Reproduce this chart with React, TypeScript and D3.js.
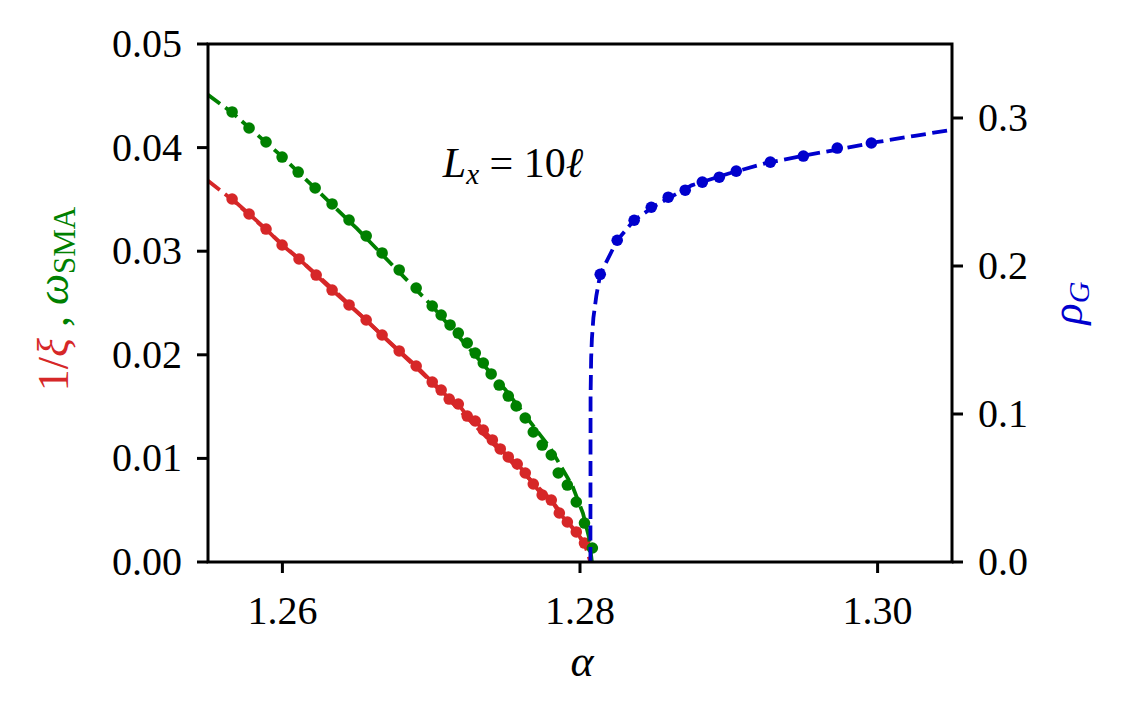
import React from "react";
import * as d3 from "d3";

// ---- data ----
const redAlpha = [1.25662, 1.25776, 1.2589, 1.25998, 1.26112, 1.26227, 1.26334, 1.26448, 1.26563, 1.2667, 1.26785, 1.26899, 1.27007, 1.27067, 1.27121, 1.27182, 1.27242, 1.27296, 1.2735, 1.27411, 1.27464, 1.27518, 1.27578, 1.27632, 1.27686, 1.27746, 1.27807, 1.27861, 1.27915, 1.27975, 1.2803];
const redValue = [0.03504, 0.03359, 0.03214, 0.0306, 0.02925, 0.0277, 0.02625, 0.02481, 0.02336, 0.02191, 0.02037, 0.01892, 0.01737, 0.0166, 0.01573, 0.01525, 0.01409, 0.01361, 0.01274, 0.01178, 0.01091, 0.01014, 0.00946, 0.00859, 0.00753, 0.00647, 0.00598, 0.00473, 0.00386, 0.0029, 0.00183];
const redFitAlpha = [1.255, 1.2566, 1.2635, 1.27, 1.275, 1.278, 1.2803, 1.2807];
const redFitValue = [0.0368, 0.035, 0.0262, 0.0174, 0.0102, 0.0061, 0.0018, 0.0];

const greenAlpha = [1.25662, 1.25776, 1.2589, 1.25998, 1.26106, 1.2622, 1.26334, 1.26448, 1.26563, 1.2667, 1.26785, 1.26899, 1.27007, 1.27067, 1.27127, 1.27182, 1.27242, 1.27296, 1.2735, 1.27403, 1.27457, 1.27518, 1.27571, 1.27632, 1.27686, 1.27746, 1.27807, 1.27854, 1.27915, 1.27975, 1.2803, 1.28083];
const greenValue = [0.04344, 0.04189, 0.04054, 0.03909, 0.03764, 0.0361, 0.03456, 0.03301, 0.03147, 0.02983, 0.02819, 0.02645, 0.02471, 0.02384, 0.02288, 0.0221, 0.02114, 0.02017, 0.01921, 0.01815, 0.01708, 0.01602, 0.01506, 0.0139, 0.01255, 0.01129, 0.01033, 0.00859, 0.00743, 0.00579, 0.00376, 0.00135];
const greenFitAlpha = [1.255, 1.2566, 1.26, 1.265, 1.27, 1.275, 1.278, 1.2795, 1.2802, 1.2806, 1.2808];
const greenFitValue = [0.0451, 0.0434, 0.0391, 0.0322, 0.0248, 0.0166, 0.011, 0.0073, 0.0047, 0.0024, 0.0];

const blueAlpha = [1.28136, 1.2825, 1.28364, 1.28479, 1.28593, 1.28707, 1.28822, 1.28936, 1.2905, 1.29279, 1.29501, 1.29729, 1.29958];
const blueValue = [0.1944, 0.2174, 0.2309, 0.2397, 0.2465, 0.2512, 0.2567, 0.26, 0.2641, 0.2702, 0.2743, 0.2797, 0.2831];
const blueFitAlpha = [1.2807, 1.28071, 1.28075, 1.2808, 1.2809, 1.2811, 1.28136, 1.2825, 1.28364, 1.285, 1.2875, 1.29, 1.2925, 1.295, 1.2975, 1.3, 1.3025, 1.305];
const blueFitValue = [0.0, 0.112, 0.138, 0.151, 0.165, 0.18, 0.1944, 0.2174, 0.2309, 0.2405, 0.2545, 0.2625, 0.2695, 0.2745, 0.279, 0.2838, 0.288, 0.292];

const xTicks = [1.26, 1.28, 1.3];
const xTickLabels = ["1.26", "1.28", "1.30"];
const leftTicks = [0, 0.01, 0.02, 0.03, 0.04, 0.05];
const leftTickLabels = ["0.00", "0.01", "0.02", "0.03", "0.04", "0.05"];
const rightTicks = [0, 0.1, 0.2, 0.3];
const rightTickLabels = ["0.0", "0.1", "0.2", "0.3"];

const RED = "#d62728";
const GREEN = "#008000";
const BLUE = "#0000cd";
const FONT = "'Liberation Serif', 'DejaVu Serif', serif";

export default function App() {
  const left = 208, right = 952, top = 44, bottom = 562;
  const x = d3.scaleLinear().domain([1.255, 1.305]).range([left, right]);
  const yL = d3.scaleLinear().domain([0, 0.05]).range([bottom, top]);
  const yR = d3.scaleLinear().domain([0, 0.35]).range([bottom, top]);

  const lineL = d3.line<[number, number]>().x((d) => x(d[0])).y((d) => yL(d[1]));
  const lineR = d3.line<[number, number]>().x((d) => x(d[0])).y((d) => yR(d[1]));

  const zip = (a: number[], b: number[]) => a.map((v, i) => [v, b[i]] as [number, number]);
  const red = zip(redAlpha, redValue);
  const redFit = zip(redFitAlpha, redFitValue);
  const green = zip(greenAlpha, greenValue);
  const greenFit = zip(greenFitAlpha, greenFitValue);
  const blue = zip(blueAlpha, blueValue);
  const blueFit = zip(blueFitAlpha, blueFitValue);

  const lw = 3.8;
  const r = 5.8;
  const dash = "15 6.5";
  const axw = 3;

  return (
    <svg width={1125} height={720} style={{ position: "absolute", left: 0, top: 0, background: "#fff" }} fontFamily={FONT}>
      <defs>
        <clipPath id="plotclip">
          <rect x={left} y={top - 2} width={right - left} height={bottom - top + 4} />
        </clipPath>
      </defs>
      <rect x={0} y={0} width={1125} height={720} fill="#fff" />
      <g clipPath="url(#plotclip)">
        {/* red */}
        <path d={lineL(redFit) || ""} fill="none" stroke={RED} strokeWidth={lw} strokeDasharray={dash} />
        <path d={lineL(red) || ""} fill="none" stroke={RED} strokeWidth={lw} />
        {red.map((d, i) => (
          <circle key={"r" + i} cx={x(d[0])} cy={yL(d[1])} r={r} fill={RED} />
        ))}
        {/* green */}
        <path d={lineL(greenFit) || ""} fill="none" stroke={GREEN} strokeWidth={lw} strokeDasharray={dash} />
        {green.map((d, i) => (
          <circle key={"g" + i} cx={x(d[0])} cy={yL(d[1])} r={r} fill={GREEN} />
        ))}
        {/* blue */}
        <path d={lineR(blueFit) || ""} fill="none" stroke={BLUE} strokeWidth={lw} strokeDasharray={dash} />
        {blue.map((d, i) => (
          <circle key={"b" + i} cx={x(d[0])} cy={yR(d[1])} r={r} fill={BLUE} />
        ))}
      </g>

      {/* frame */}
      <rect x={left} y={top} width={right - left} height={bottom - top} fill="none" stroke="#000" strokeWidth={axw} />

      {/* bottom ticks */}
      {xTicks.map((t, i) => (
        <g key={"xt" + i}>
          <line x1={x(t)} x2={x(t)} y1={bottom} y2={bottom + 11} stroke="#000" strokeWidth={axw} />
          <text x={x(t)} y={bottom + 62} fontSize={40} textAnchor="middle" fill="#000">
            {xTickLabels[i]}
          </text>
        </g>
      ))}
      {/* left ticks */}
      {leftTicks.map((t, i) => (
        <g key={"lt" + i}>
          <line x1={left - 11} x2={left} y1={yL(t)} y2={yL(t)} stroke="#000" strokeWidth={axw} />
          <text x={left - 26} y={yL(t) + 13} fontSize={40} textAnchor="end" fill="#000">
            {leftTickLabels[i]}
          </text>
        </g>
      ))}
      {/* right ticks */}
      {rightTicks.map((t, i) => (
        <g key={"rt" + i}>
          <line x1={right} x2={right + 11} y1={yR(t)} y2={yR(t)} stroke="#000" strokeWidth={axw} />
          <text x={right + 26} y={yR(t) + 13} fontSize={40} textAnchor="start" fill="#000">
            {rightTickLabels[i]}
          </text>
        </g>
      ))}

      {/* x label */}
      <text x={(left + right) / 2 + 2} y={676} fontSize={44} fontStyle="italic" textAnchor="middle" fill="#000">
        α
      </text>

      {/* annotation */}
      <text x={513} y={177} fontSize={42} textAnchor="middle" fill="#000">
        <tspan fontStyle="italic">L</tspan>
        <tspan fontStyle="italic" fontSize={29} dy={7}>x</tspan>
        <tspan dy={-7}> = 10</tspan>
        <tspan fontStyle="italic">ℓ</tspan>
      </text>

      {/* left y label */}
      <text transform="translate(68,299) rotate(-90)" fontSize={44} textAnchor="middle">
        <tspan fill={RED}>1/</tspan>
        <tspan fill={RED} fontStyle="italic">ξ</tspan>
        <tspan fill={GREEN}> , </tspan>
        <tspan fill={GREEN} fontStyle="italic">ω</tspan>
        <tspan fill={GREEN} fontSize={31} dy={7}>SMA</tspan>
      </text>

      {/* right y label */}
      <text transform="translate(1082,303) rotate(-90)" fontSize={44} textAnchor="middle" fill={BLUE}>
        <tspan fontStyle="italic">ρ</tspan>
        <tspan fontStyle="italic" fontSize={30} dy={7}>G</tspan>
      </text>
    </svg>
  );
}
